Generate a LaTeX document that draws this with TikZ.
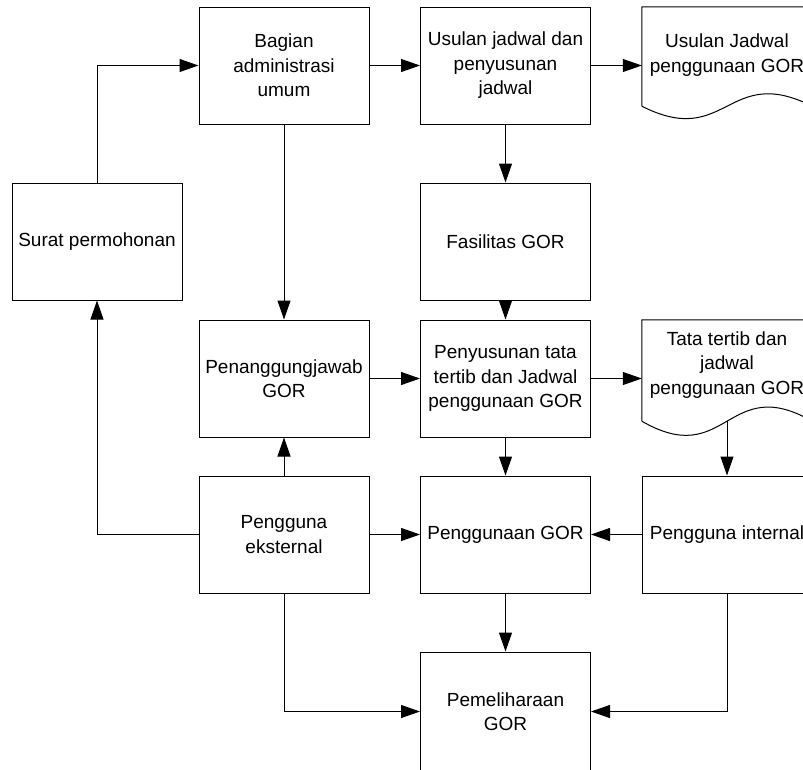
\documentclass[tikz,border=0pt]{standalone}
\usepackage{fontspec}
\setmainfont{Liberation Sans}
\usetikzlibrary{arrows.meta,calc}

\begin{document}
\begin{tikzpicture}[x=1pt,y=-1pt,
  every node/.style={font=\fontsize{19}{24.5}\selectfont, align=center},
  procbox/.style={draw, line width=1pt, rectangle, inner sep=0pt,
    minimum width=170pt, minimum height=117pt},
  docbox/.style={rectangle, inner sep=0pt, minimum width=170pt, minimum height=101pt},
  docline/.style={draw, line width=1pt},
  arr/.style={draw, line width=1pt, -{Triangle[length=19pt,width=13pt]}}]

\useasboundingbox (0,0) rectangle (803,769);

% process boxes
\node[procbox] (surat)        at (97,241.5)   {Surat permohonan};
\node[procbox] (bagian)       at (284,65.5)   {Bagian\\administrasi\\umum};
\node[procbox] (usulan)       at (505.5,65.5) {Usulan jadwal dan\\penyusunan\\jadwal};
\node[procbox] (fasilitas)    at (505.5,241.5){Fasilitas GOR};
\node[procbox] (penanggung)   at (284,378.5)  {Penanggungjawab\\GOR};
\node[procbox] (penyusunan)   at (505.5,378.5){Penyusunan tata\\tertib dan Jadwal\\penggunaan GOR};
\node[procbox] (eksternal)    at (284,534.5)  {Pengguna\\eksternal};
\node[procbox] (penggunaan)   at (505.5,534.5){Penggunaan GOR};
\node[procbox] (internal)     at (727,534.5)  {Pengguna internal};
\node[procbox, minimum height=119pt] (pemeliharaan) at (505.5,711.5) {Pemeliharaan\\GOR};

% document shapes: outline frames and their texts
\node[docbox, minimum height=99pt] (doc1) at (727,56.5) {};
\node[docbox] (doc2) at (727,370.5) {};
\node (doc1text) at (727,55) {Usulan Jadwal\\penggunaan GOR};
\node (doc2text) at (727,365) {Tata tertib dan\\jadwal\\penggunaan GOR};
\draw[docline] (doc1.south west) -- (doc1.north west) -- (doc1.north east) -- (doc1.south east)
  .. controls ($(doc1.south)+(0,-43)$) and ($(doc1.south)+(0,43)$) .. (doc1.south west);
\draw[docline] (doc2.south west) -- (doc2.north west) -- (doc2.north east) -- (doc2.south east)
  .. controls ($(doc2.south)+(0,-49)$) and ($(doc2.south)+(0,49)$) .. (doc2.south west);

% connectors
\draw[arr] (surat.north) |- (bagian.west);
\draw[arr] (bagian.east) -- (usulan.west);
\draw[arr] (usulan.east) -- (usulan.east -| doc1.west);
\draw[arr] (usulan.south) -- (fasilitas.north);
\draw[arr] (bagian.south) -- (penanggung.north);
\draw[arr] (fasilitas.south) -- (penyusunan.north);
\draw[arr] (penanggung.east) -- (penyusunan.west);
\draw[arr] (penyusunan.east) -- (penyusunan.east -| doc2.west);
\draw[arr] (doc2.south) -- (internal.north);
\draw[arr] (penyusunan.south) -- (penggunaan.north);
\draw[arr] (eksternal.north) -- (penanggung.south);
\draw[arr] (eksternal.east) -- (penggunaan.west);
\draw[arr] (internal.west) -- (penggunaan.east);
\draw[arr] (eksternal.west) -| (surat.south);
\draw[arr] (eksternal.south) |- (pemeliharaan.west);
\draw[arr] (penggunaan.south) -- (pemeliharaan.north);
\draw[arr] (internal.south) |- (pemeliharaan.east);

\end{tikzpicture}
\end{document}
